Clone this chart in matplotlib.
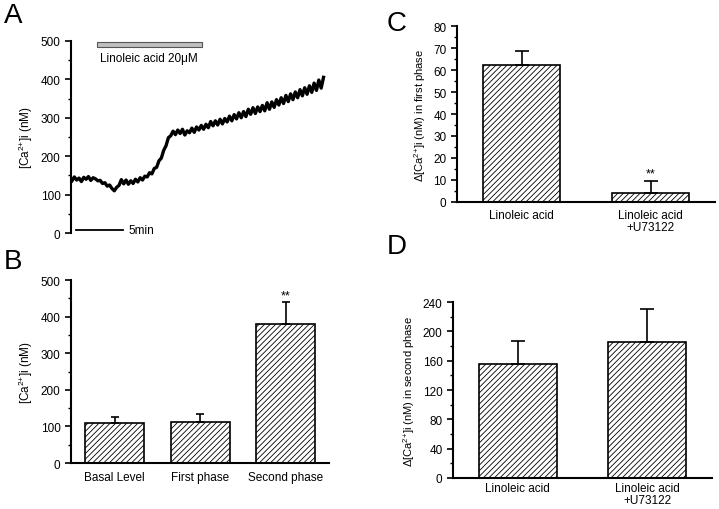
import matplotlib
matplotlib.use("Agg")
import matplotlib.pyplot as plt
import matplotlib.patches as pc
import numpy as np

plt.rcParams['font.family'] = ['Liberation Sans', 'DejaVu Sans']
plt.rcParams['mathtext.fontset'] = 'custom'
plt.rcParams['mathtext.rm'] = 'Liberation Sans'
plt.rcParams['mathtext.it'] = 'Liberation Sans'
plt.rcParams['hatch.linewidth'] = 0.6

# Panel A: calcium trace, one reading every 0.25 min starting at 0.1 min
trace_start = 0.1
trace_step = 0.25
trace_values = [
    136, 146, 138, 143, 134, 145, 140, 147, 137, 144,
    141, 136, 137, 129, 131, 122, 125, 116, 110, 119,
    124, 139, 128, 138, 127, 136, 129, 140, 133, 144,
    138, 148, 146, 157, 154, 168, 171, 188, 195, 215,
    227, 248, 253, 265, 256, 268, 259, 270, 255, 266,
    261, 273, 262, 276, 268, 280, 270, 283, 274, 290,
    279, 292, 281, 296, 284, 298, 289, 304, 292, 308,
    297, 313, 300, 316, 303, 322, 309, 326, 311, 328,
    316, 332, 318, 339, 322, 341, 327, 347, 333, 352,
    337, 358, 342, 362, 347, 367, 352, 373, 357, 378,
    361, 383, 366, 390, 371, 398, 377, 405,
]
trace_time = trace_start + trace_step * np.arange(len(trace_values))

# Panel B
b_labels = ['Basal Level', 'First phase', 'Second phase']
b_means = [110, 113, 380]
b_errs = [17, 22, 60]

# Panel C
c_labels = ['Linoleic acid', 'Linoleic acid\n+U73122']
c_means = [62.5, 4.2]
c_errs = [6.3, 5.4]

# Panel D
d_labels = ['Linoleic acid', 'Linoleic acid\n+U73122']
d_means = [156, 186]
d_errs = [31, 44]

CA = '[Ca$^{2{+}}$]i (nM)'

fig = plt.figure(figsize=(7.19, 5.10), dpi=100)


def style_axis(ax, ymax, major, minor, xpad=6):
    ax.spines['top'].set_visible(False)
    ax.spines['right'].set_visible(False)
    ax.spines['left'].set_linewidth(1.5)
    ax.spines['bottom'].set_linewidth(1.5)
    ax.set_ylim(0, ymax)
    ax.set_yticks(np.arange(0, ymax + 1, major))
    ax.set_yticks(np.arange(0, ymax + 1, minor), minor=True)
    ax.tick_params(axis='y', which='major', direction='out', length=4, width=1.2, labelsize=8.5)
    ax.tick_params(axis='y', which='minor', direction='out', length=2, width=1.0)
    ax.tick_params(axis='x', length=0, labelsize=8.5, pad=xpad)


def bars(ax, labels, means, errs, width, cap):
    x = np.arange(len(labels))
    ax.bar(x, means, width, color='white', edgecolor='black', linewidth=1.2,
           hatch='//////', zorder=2)
    ax.errorbar(x, means, yerr=[np.zeros(len(errs)), errs], fmt='none',
                ecolor='black', elinewidth=1.2, capsize=cap, capthick=1.2, zorder=3)
    ax.set_xticks(x)
    ax.set_xticklabels(labels, linespacing=1.0)


# A
axA = fig.add_axes([0.0988, 0.541, 0.359, 0.377])
axA.plot(trace_time, trace_values, color='black', lw=2.4)
style_axis(axA, 500, 100, 50)
axA.spines['bottom'].set_visible(False)
axA.set_xticks([])
axA.set_xlim(0, 27.45)
axA.set_ylabel(CA, fontsize=8.5)
axA.add_patch(pc.Rectangle((2.8, 484), 11.1, 14, facecolor='#c0c0c0',
                           edgecolor='#555555', lw=0.8, clip_on=False))
axA.text(3.1, 455, 'Linoleic acid 20\u03bcM', fontsize=8.5, va='center')
axA.plot([0.5, 5.5], [8, 8], color='black', lw=1.3, clip_on=False)
axA.text(6.1, 8, '5min', fontsize=8.5, va='center')

# B
axB = fig.add_axes([0.0988, 0.090, 0.359, 0.359])
bars(axB, b_labels, b_means, b_errs, 0.69, 3)
style_axis(axB, 500, 100, 50)
axB.set_xlim(-0.51, 2.51)
axB.set_ylabel(CA, fontsize=8.5)
axB.text(2, 458, '**', ha='center', va='center', fontsize=9)

# C
axC = fig.add_axes([0.6356, 0.602, 0.359, 0.345])
bars(axC, c_labels, c_means, c_errs, 0.6, 5)
style_axis(axC, 80, 10, 5, xpad=5)
axC.set_xlim(-0.5, 1.5)
axC.set_ylabel('\u0394' + CA + ' in first phase', fontsize=8)
axC.text(1, 12.8, '**', ha='center', va='center', fontsize=9)

# D
axD = fig.add_axes([0.630, 0.0608, 0.360, 0.345])
bars(axD, d_labels, d_means, d_errs, 0.6, 5)
style_axis(axD, 240, 40, 20, xpad=3)
axD.set_xlim(-0.5, 1.5)
axD.set_ylabel('\u0394' + CA + ' in second phase', fontsize=8)

# panel letters
fig.text(0.005, 0.995, 'A', fontsize=20, va='top')
fig.text(0.005, 0.512, 'B', fontsize=20, va='top')
fig.text(0.538, 0.978, 'C', fontsize=20, va='top')
fig.text(0.538, 0.541, 'D', fontsize=20, va='top')

fig.savefig('out.png', dpi=100)
